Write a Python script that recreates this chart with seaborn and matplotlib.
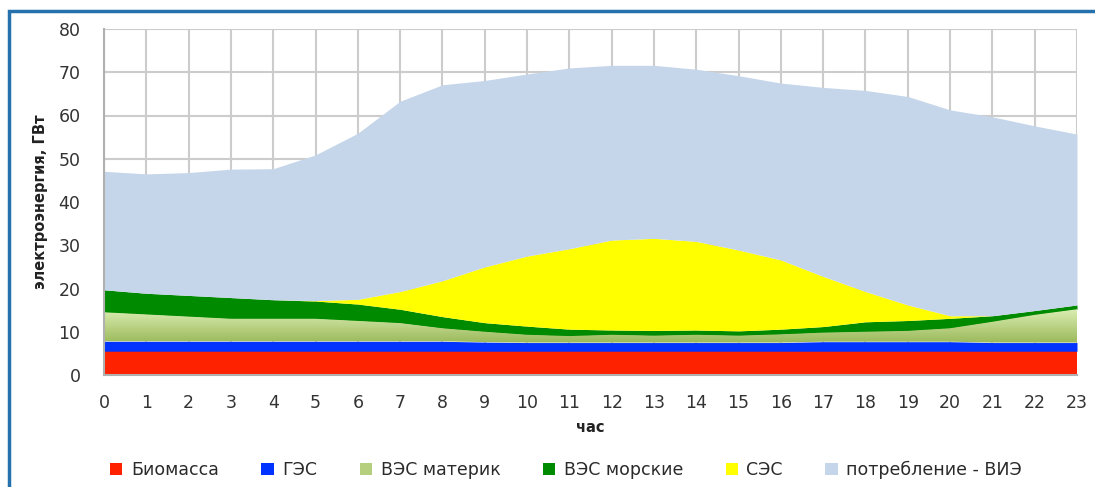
import numpy as np
import matplotlib
matplotlib.use("Agg")
import matplotlib.pyplot as plt
from matplotlib.patches import Patch, Rectangle
from matplotlib.colors import LinearSegmentedColormap
import seaborn as sns

# hourly generation, GW
hours = list(range(24))
biomass = [5.5] * 24
hydro = [2.3] * 9 + [2.1] + [2.0] * 7 + [2.2] * 4 + [2.0] * 3
wind_land = [6.7, 6.2, 5.7, 5.2, 5.2, 5.2, 4.7, 4.2, 3.0, 2.4, 1.8, 1.5,
             1.8, 1.6, 1.8, 1.6, 1.9, 2.1, 2.3, 2.5, 3.1, 4.8, 6.4, 7.7]
wind_sea = [5.2, 4.9, 4.9, 4.9, 4.4, 4.1, 3.9, 3.2, 2.7, 2.1, 2.0, 1.6,
            1.1, 1.2, 1.1, 1.1, 1.2, 1.4, 2.3, 2.4, 2.3, 1.4, 1.0, 1.0]
solar = [0, 0, 0, 0, 0, 0.1, 1.1, 4.1, 8.3, 12.9, 16.2, 18.6,
         20.8, 21.3, 20.5, 18.7, 16.0, 11.6, 7.0, 3.6, 0.6, 0, 0, 0]
rest = [27.4, 27.6, 28.4, 29.7, 30.3, 33.7, 38.4, 44.0, 45.3, 43.1, 42.1, 41.8,
        40.4, 40.0, 39.8, 40.3, 40.9, 43.7, 46.5, 48.2, 47.6, 46.0, 42.7, 39.5]

labels = ["Биомасса", "ГЭС", "ВЭС материк", "ВЭС морские", "СЭС", "потребление - ВИЭ"]
colors = ["#ff2200", "#0033ff", "#b5cf7e", "#008a00", "#ffff00", "#c5d6ea"]

sns.set_style("white")
plt.rcParams['font.family'] = ['DejaVu Sans']

fig = plt.figure(figsize=(10.95, 4.87), dpi=100)
ax = fig.add_axes([104/1095, 1 - 375/487, 973/1095, 346/487])

polys = ax.stackplot(hours, biomass, hydro, wind_land, wind_sea, solar, rest,
                     colors=colors, linewidth=0, zorder=2)

# gradient fill for onshore wind
grad = LinearSegmentedColormap.from_list("g", ["#9bb95a", "#dcefb5"])
poly = polys[2]
poly.set_facecolor("none")
img = ax.imshow(np.linspace(0, 1, 100).reshape(-1, 1), cmap=grad, aspect="auto",
                extent=[0, 23, 7.5, 15.5], origin="lower", zorder=2.1)
img.set_clip_path(poly.get_paths()[0], transform=ax.transData)

ax.set_xlim(0, 23)
ax.set_ylim(0, 80)
ax.set_xticks(hours)
ax.set_yticks(range(0, 81, 10))
ax.grid(True, color="#cccccc", linewidth=1.5)
ax.set_axisbelow(True)
for s in ["top", "right"]:
    ax.spines[s].set_visible(False)
for s in ["left", "bottom"]:
    ax.spines[s].set_color("#b0b0b0")
    ax.spines[s].set_linewidth(1.5)
ax.tick_params(axis="both", direction="out", length=5, width=1.5, color="#b0b0b0",
               labelsize=12.5, labelcolor="#333333")
ax.tick_params(axis="x", pad=9)
ax.tick_params(axis="y", pad=12)

ax.set_xlabel("час", fontsize=10.5, fontweight="bold", color="#222222")
ax.xaxis.set_label_coords(0.5, -0.13)
ax.set_ylabel("электроэнергия, ГВт", fontsize=10.5, fontweight="bold", color="#222222")
ax.yaxis.set_label_coords(-0.058, 0.5)

handles = [Patch(facecolor=c, edgecolor="none") for c in colors]
fig.legend(handles, labels, loc="center", bbox_to_anchor=(0.517, 1 - 470/487), ncol=6,
           frameon=False, fontsize=12.5, handlelength=0.7, handleheight=0.7,
           handletextpad=0.5, columnspacing=2.45, labelcolor="#2a2a2a")

# outer frame
fig.patches.append(Rectangle((9/1095, -0.1), 1.2, 1.1 - 11/487,
                             transform=fig.transFigure, fill=False,
                             edgecolor="#2471ad", linewidth=2.5))

fig.savefig("out.png", dpi=100)
